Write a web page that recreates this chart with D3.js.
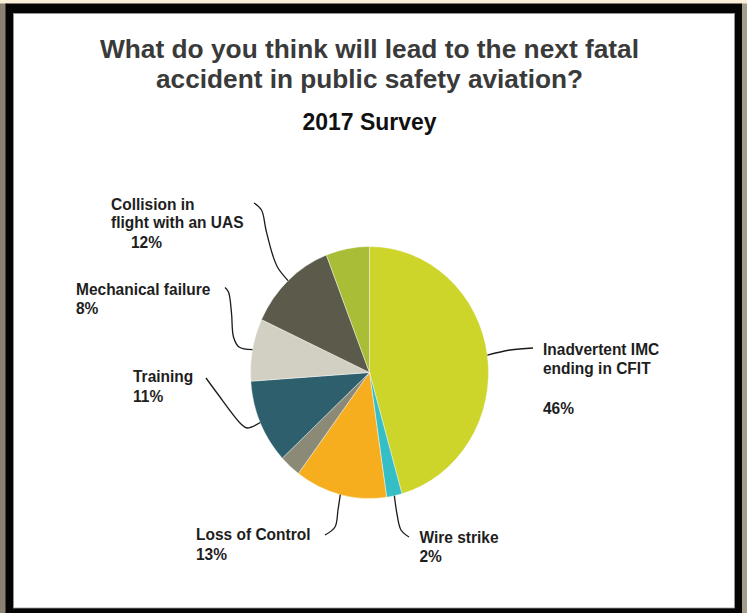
<!DOCTYPE html>
<html>
<head>
<meta charset="utf-8">
<script src="https://cdn.jsdelivr.net/npm/d3@7/dist/d3.min.js"></script>
<style>
  html, body { margin: 0; padding: 0; background: #fbefd9; }
  svg { display: block; }
</style>
</head>
<body>
<svg id="chart" width="747" height="613"></svg>
<script>
// ---- data ----
const categories = [
  "Inadvertent IMC ending in CFIT",
  "Wire strike",
  "Loss of Control",
  "Other (unlabeled)",
  "Training",
  "Mechanical failure",
  "Collision in flight with an UAS",
  "Other (unlabeled) 2"
];
const values = [45.6, 2.1, 12.5, 2.9, 10.8, 8.0, 12.2, 5.9];
const pctLabels = ["46%", "2%", "13%", "", "11%", "8%", "12%", ""];
const colors = ["#cdd42a", "#35bec6", "#f6ae1e", "#8b8a77", "#2d5f6c", "#d2d0c2", "#5b5a4b", "#a9bd36"];
const titleLines = ["What do you think will lead to the next fatal", "accident in public safety aviation?"];
const subtitle = "2017 Survey";

// ---- layout ----
const W = 747, H = 613;
const cx = 369.5, cy = 372.5, r = 119, sy = 126 / 119;

const svg = d3.select("#chart");

// frame
svg.append("rect").attr("x", 0).attr("y", 0).attr("width", 7).attr("height", H).attr("fill", "#8a8272");
svg.append("rect").attr("x", 741).attr("y", 0).attr("width", 6).attr("height", H).attr("fill", "#a49c8a");
svg.append("rect").attr("x", 0).attr("y", 0).attr("width", W).attr("height", 3.5).attr("fill", "#fbefd9");
svg.append("rect").attr("x", 5.5).attr("y", 3.5).attr("width", 736.5).attr("height", H).attr("fill", "#050505");
svg.append("rect").attr("x", 13.5).attr("y", 13.5).attr("width", 721).attr("height", 594.5).attr("fill", "#ffffff")
  .attr("stroke", "#9a9a9a").attr("stroke-width", 0.8);

// titles
const titleFont = "'Liberation Sans', Arial, Helvetica, sans-serif";
const titleY = [57.5, 88];
const titleW = [539, 427];
titleLines.forEach((t, i) => {
  svg.append("text")
    .attr("x", cx).attr("y", titleY[i])
    .attr("text-anchor", "middle")
    .attr("font-family", titleFont)
    .attr("font-weight", "bold")
    .attr("font-size", 26.5)
    .attr("fill", "#3a3a3a")
    .attr("textLength", titleW[i])
    .attr("lengthAdjust", "spacingAndGlyphs")
    .text(t);
});
svg.append("text")
  .attr("x", cx).attr("y", 130)
  .attr("text-anchor", "middle")
  .attr("font-family", titleFont)
  .attr("font-weight", "bold")
  .attr("font-size", 23)
  .attr("fill", "#111")
  .attr("textLength", 134)
  .attr("lengthAdjust", "spacingAndGlyphs")
  .text(subtitle);

// pie
const pie = d3.pie().sort(null).value(d => d).startAngle(0).endAngle(2 * Math.PI);
const arcs = pie(values);
const arc = d3.arc().innerRadius(0).outerRadius(r);

const g = svg.append("g").attr("transform", `translate(${cx},${cy}) scale(1,${sy})`);
g.selectAll("path.slice")
  .data(arcs)
  .enter().append("path")
  .attr("class", "slice")
  .attr("d", arc)
  .attr("fill", (d, i) => colors[i])
  .attr("stroke", "#ffffff")
  .attr("stroke-width", 0.4);

// edge point at mid-angle of a slice (in page coords)
function edgePoint(d) {
  const a = (d.startAngle + d.endAngle) / 2;
  return [cx + r * Math.sin(a), cy - r * sy * Math.cos(a)];
}

// labels: lines, anchor x, first baseline y, leader path (after start)
const labelLayout = [
  { i: 0, x: 543, y: 354.5, lines: ["Inadvertent IMC", "ending in CFIT", "", "46%"], gaps: [0, 19, 0, 40],
    path: [[510, 350], [533, 348]] },
  { i: 1, x: 419.5, y: 542.5, lines: ["Wire strike", "2%"], gaps: [0, 19],
    path: [[397, 514], [401, 530], [409, 537]] },
  { i: 2, x: 196, y: 540, lines: ["Loss of Control", "13%"], gaps: [0, 20],
    path: [[338, 510], [335, 527], [325, 535]] },
  { i: 4, x: 133, y: 381.5, lines: ["Training", "11%"], gaps: [0, 20],
    path: [[247, 428], [241, 424], [217, 393], [206, 378]] },
  { i: 5, x: 76, y: 295, lines: ["Mechanical failure", "8%"], gaps: [0, 19],
    path: [[239, 347], [233.5, 337], [231.5, 313], [228.5, 292], [225, 287.5]] },
  { i: 6, x: 111, y: 209.5, lines: ["Collision in", "flight with an UAS", "12%"], gaps: [0, 18.5, 20], xs: [0, 0, 20],
    path: [[278, 268], [273, 256], [266, 230], [261.5, 210], [254, 203]] }
];

const line = d3.line().curve(d3.curveCatmullRom.alpha(0.5));

labelLayout.forEach(L => {
  const start = edgePoint(arcs[L.i]);
  svg.append("path")
    .attr("d", line([start].concat(L.path)))
    .attr("fill", "none")
    .attr("stroke", "#1a1a1a")
    .attr("stroke-width", 1.3);

  let yy = L.y;
  L.lines.forEach((t, k) => {
    yy += L.gaps[k];
    if (t === "") return;
    const txt = (k === L.lines.length - 1 && pctLabels[L.i] === t) ? pctLabels[L.i] : t;
    svg.append("text")
      .attr("transform", `translate(${L.x + (L.xs ? L.xs[k] : 0)},${yy}) scale(1,1.06)`)
      .attr("font-family", titleFont)
      .attr("font-weight", "bold")
      .attr("font-size", 15.5)
      .attr("fill", "#1e1e1e")
      .text(txt);
  });
});
</script>
</body>
</html>
